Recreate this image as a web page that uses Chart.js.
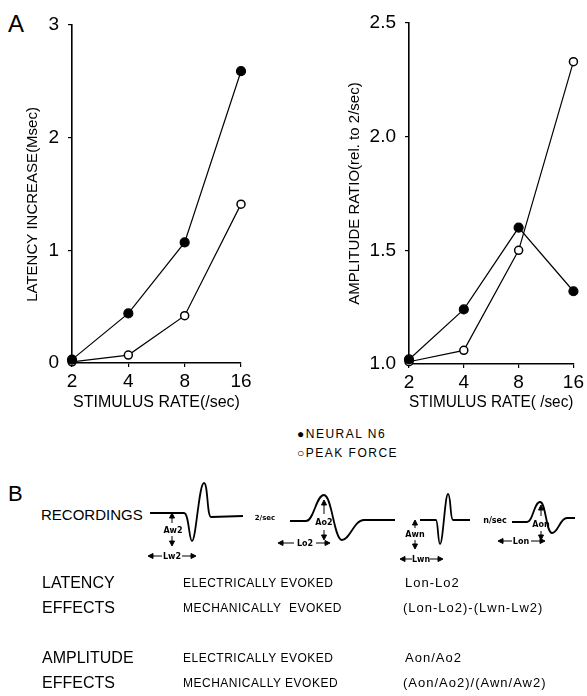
<!DOCTYPE html>
<html>
<head>
<meta charset="utf-8">
<script src="https://cdn.jsdelivr.net/npm/chart.js@4.4.1/dist/chart.umd.min.js"></script>
<style>
  html, body { margin: 0; padding: 0; background: #fff; }
  body { width: 587px; height: 696px; position: relative; overflow: hidden;
         font-family: "Liberation Sans", Arial, sans-serif; color: #000; }
  canvas { position: absolute; top: 0; }
  .t { position: absolute; white-space: pre; line-height: 1; }
  .panel { font-size: 24px; }
  .head { font-size: 16px; }
  .small { font-size: 12px; letter-spacing: 0.5px; }
  .formula { font-size: 13px; letter-spacing: 1px; }
  .legend { font-size: 12px; letter-spacing: 1.5px; }
  svg { position: absolute; left: 0; top: 0; }
  svg text { font-family: "DejaVu Sans", sans-serif; font-size: 8px; font-weight: bold; }
</style>
</head>
<body>
<div class="t panel" style="left:8px; top:12px;">A</div>
<canvas id="latency" width="290" height="420" style="left:0;"></canvas>
<canvas id="amplitude" width="297" height="420" style="left:290px;"></canvas>

<!-- legend -->
<div class="t legend" style="left:297px; top:428px;">&#9679;NEURAL N6</div>
<div class="t legend" style="left:297px; top:447px;">&#9675;PEAK FORCE</div>

<!-- panel B -->
<div class="t panel" style="left:8px; top:483px; font-size:22px;">B</div>
<div class="t head" style="left:41px; top:507px; font-size:15px;">RECORDINGS</div>

<svg width="587" height="696">
  <g fill="none" stroke="#000" stroke-width="1.8">
    <!-- wave 1 (Aw2) -->
    <path d="M150,513 L184,513 C189,513 189,541 192,541 C196,541 199,483 204,483 C208,483 207,517 211,517 L243,516"/>
    <!-- wave 2 (Ao2) -->
    <path d="M290,521 L306,521 C314,521 316,495 324,495 C332,495 334,540 342,540 C350,540 354,520 364,520 L395,520"/>
    <!-- wave 3 (Awn) -->
    <path d="M420,520 L436,520 C438,520 438,544 440,544 C443,544 445,494 448,494 C451,494 450,520 453,520 L470,520"/>
    <!-- wave 4 (Aon) -->
    <path d="M512,522 L527,522 C533,522 534,502 540,502 C546,502 546,533 552,533 C558,533 560,518 567,518 L575,518"/>
  </g>
  <g stroke="#000" stroke-width="1" fill="#000">
    <!-- Aw2 arrows -->
    <line x1="172" y1="523" x2="172" y2="516"/><path d="M169.5,518 L172,513 L174.5,518 Z"/>
    <line x1="172" y1="536" x2="172" y2="543"/><path d="M169.5,541 L172,546 L174.5,541 Z"/>
    <line x1="150" y1="556" x2="162" y2="556"/><path d="M153,553.5 L148,556 L153,558.5 Z"/>
    <line x1="182" y1="556" x2="194" y2="556"/><path d="M191,553.5 L196,556 L191,558.5 Z"/>
    <!-- Ao2 arrows -->
    <line x1="324" y1="514" x2="324" y2="503"/><path d="M321.5,505 L324,500 L326.5,505 Z"/>
    <line x1="324" y1="530" x2="324" y2="537"/><path d="M321.5,535 L324,540 L326.5,535 Z"/>
    <line x1="280" y1="543" x2="294" y2="543"/><path d="M283,540.5 L278,543 L283,545.5 Z"/>
    <line x1="316" y1="543" x2="328" y2="543"/><path d="M325,540.5 L330,543 L325,545.5 Z"/>
    <!-- Awn arrows -->
    <line x1="415" y1="528" x2="415" y2="523"/><path d="M412.5,525 L415,520 L417.5,525 Z"/>
    <line x1="415" y1="540" x2="415" y2="546"/><path d="M412.5,544 L415,549 L417.5,544 Z"/>
    <line x1="402" y1="559" x2="412" y2="559"/><path d="M405,556.5 L400,559 L405,561.5 Z"/>
    <line x1="430" y1="559" x2="441" y2="559"/><path d="M438,556.5 L443,559 L438,561.5 Z"/>
    <!-- Aon arrows -->
    <line x1="541" y1="516" x2="541" y2="508"/><path d="M538.5,510 L541,505 L543.5,510 Z"/>
    <line x1="541" y1="531" x2="541" y2="537"/><path d="M538.5,535 L541,540 L543.5,535 Z"/>
    <line x1="500" y1="541" x2="512" y2="541"/><path d="M503,538.5 L498,541 L503,543.5 Z"/>
    <line x1="531" y1="541" x2="543" y2="541"/><path d="M540,538.5 L545,541 L540,543.5 Z"/>
  </g>
  <g fill="#000" text-anchor="middle">
    <text x="173" y="533">Aw2</text>
    <text x="172" y="559">Lw2</text>
    <text x="324" y="525">Ao2</text>
    <text x="305" y="546">Lo2</text>
    <text x="415" y="537">Awn</text>
    <text x="421" y="562">Lwn</text>
    <text x="541" y="527">Aon</text>
    <text x="521" y="544">Lon</text>
    <text x="265" y="520" style="font-size:7px">2/sec</text>
    <text x="495" y="523" style="font-size:8px">n/sec</text>
  </g>
</svg>

<div class="t head" style="left:42px; top:575px;">LATENCY</div>
<div class="t head" style="left:42px; top:600px;">EFFECTS</div>
<div class="t head" style="left:42px; top:650px;">AMPLITUDE</div>
<div class="t head" style="left:42px; top:675px;">EFFECTS</div>

<div class="t small" style="left:183px; top:577px;">ELECTRICALLY EVOKED</div>
<div class="t small" style="left:183px; top:602px;">MECHANICALLY  EVOKED</div>
<div class="t small" style="left:183px; top:652px;">ELECTRICALLY EVOKED</div>
<div class="t small" style="left:183px; top:677px;">MECHANICALLY EVOKED</div>

<div class="t formula" style="left:405px; top:576px;">Lon-Lo2</div>
<div class="t formula" style="left:403px; top:601px;">(Lon-Lo2)-(Lwn-Lw2)</div>
<div class="t formula" style="left:405px; top:651px;">Aon/Ao2</div>
<div class="t formula" style="left:403px; top:676px;">(Aon/Ao2)/(Awn/Aw2)</div>

<script>
// stimulus rates (/sec), log2 axis
const rates = [2, 4, 8, 16];

// panel A left: latency increase (msec)
const latencyNeural = [0.03, 0.44, 1.07, 2.59];
const latencyForce = [0.01, 0.07, 0.42, 1.41];
const latencyTicks = [0, 1, 2, 3];

// panel A right: amplitude ratio rel. to 2/sec
const ampNeural = [1.02, 1.24, 1.60, 1.32];
const ampForce = [1.01, 1.06, 1.50, 2.33];
const ampTicks = [1.0, 1.5, 2.0, 2.5];

Chart.defaults.color = "#000";
Chart.defaults.font.family = '"Liberation Sans", Arial, sans-serif';

const toPoints = (vals) => rates.map((r, i) => ({ x: r, y: vals[i] }));

const neuralStyle = {
  borderColor: "#000",
  backgroundColor: "#000",
  pointBackgroundColor: "#000",
  pointBorderColor: "#000",
  pointRadius: 4.5,
  borderWidth: 1.2,
  clip: false,
};
const forceStyle = {
  borderColor: "#000",
  backgroundColor: "#fff",
  pointBackgroundColor: "#fff",
  pointBorderColor: "#000",
  pointBorderWidth: 1.5,
  pointRadius: 4,
  borderWidth: 1.2,
  clip: false,
};

function makeChart(id, neural, force, yTicks, yTitle, xTitle, fmt, pad, yWidth, xHeight) {
  return new Chart(document.getElementById(id), {
    type: "line",
    data: {
      datasets: [
        { label: "NEURAL N6", data: toPoints(neural), ...neuralStyle },
        { label: "PEAK FORCE", data: toPoints(force), ...forceStyle },
      ],
    },
    options: {
      responsive: false,
      animation: false,
      layout: { padding: pad },
      plugins: { legend: { display: false }, tooltip: { enabled: false } },
      scales: {
        x: {
          type: "logarithmic",
          min: rates[0],
          max: rates[rates.length - 1],
          afterBuildTicks: (s) => { s.ticks = rates.map((v) => ({ value: v })); },
          afterFit: (s) => { s.height = xHeight; },
          ticks: { callback: (v) => String(v), font: { size: 19 }, padding: 3, maxRotation: 0, autoSkip: false },
          grid: { drawOnChartArea: false, drawTicks: true, tickLength: 4, color: "#000", lineWidth: 1.2 },
          border: { display: true, color: "#000", width: 1.6 },
          title: { display: true, text: xTitle, font: { size: 16 }, padding: 0 },
        },
        y: {
          type: "linear",
          min: yTicks[0],
          max: yTicks[yTicks.length - 1],
          afterBuildTicks: (s) => { s.ticks = yTicks.map((v) => ({ value: v })); },
          afterFit: (s) => { s.width = yWidth; },
          ticks: { callback: fmt, font: { size: 19 }, padding: 9 },
          grid: { drawOnChartArea: false, drawTicks: true, tickLength: 4, color: "#000", lineWidth: 1.2 },
          border: { display: true, color: "#000", width: 1.6 },
          title: { display: true, text: yTitle, font: { size: 15 }, padding: 0 },
        },
      },
    },
  });
}

// trailing spaces push the rotated left title a little lower, as in the original
makeChart("latency", latencyNeural, latencyForce, latencyTicks,
  "LATENCY INCREASE(Msec)     ", "STIMULUS RATE(/sec)",
  (v) => String(v), { left: 24, top: 25, right: 49, bottom: 8 }, 48, 49);

makeChart("amplitude", ampNeural, ampForce, ampTicks,
  "AMPLITUDE RATIO(rel. to 2/sec)", "STIMULUS RATE( /sec)",
  (v) => v.toFixed(1), { left: 56, top: 23, right: 8, bottom: 8 }, 63, 48);
</script>
</body>
</html>
